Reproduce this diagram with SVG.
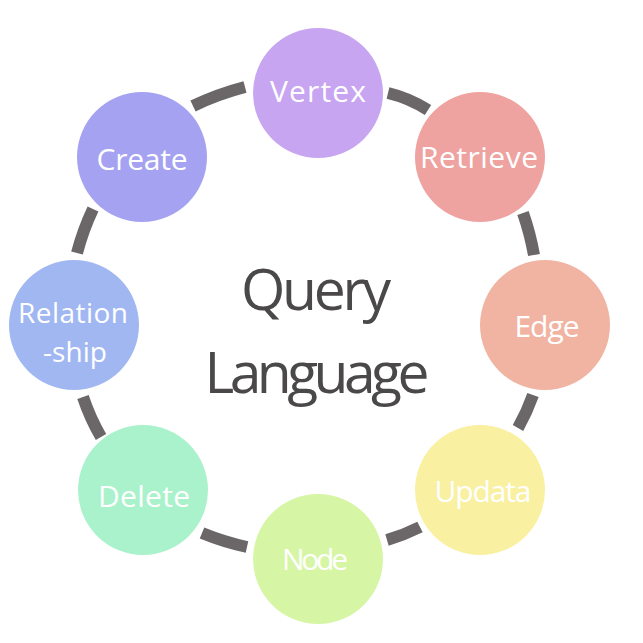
<svg xmlns="http://www.w3.org/2000/svg" width="643" height="643" viewBox="0 0 643 643">
<style>
.bg{fill:#ffffff}
.conn path{fill:none;stroke:#6b6768;stroke-width:12;stroke-linecap:butt}
.lbl{font-family:"Open Sans","DejaVu Sans",sans-serif;font-size:30px;fill:#ffffff;text-anchor:middle}
.sm{font-size:28px}
.title{font-family:"Open Sans","DejaVu Sans",sans-serif;font-size:57px;fill:#4a4849;text-anchor:middle}
</style>
<rect class="bg" x="0" y="0" width="643" height="643"/>
<g id="connectors" class="conn">
<path d="M388,93 Q409,98 428,110"/>
<path d="M523,213 Q530,233 534,255"/>
<path d="M533,395 Q527,412 518,428"/>
<path d="M420,527 Q404,535 387,540"/>
<path d="M247,547 Q224,542 202,533"/>
<path d="M101,437 Q90,418 83,397"/>
<path d="M77,253 Q83,230 93,209"/>
<path d="M193,106 Q218,94 245,87"/>
</g>
<g id="vertex">
<circle cx="318" cy="93" r="65" fill="#c7a5f1"/>
<text class="lbl" x="318" y="102" textLength="96">Vertex</text>
</g>
<g id="retrieve">
<circle cx="480" cy="157" r="65" fill="#eea3a1"/>
<text class="lbl" x="479" y="168" textLength="118">Retrieve</text>
</g>
<g id="edge">
<circle cx="545" cy="325" r="65" fill="#f1b4a3"/>
<text class="lbl" x="547" y="337" textLength="65">Edge</text>
</g>
<g id="updata">
<circle cx="480" cy="490" r="65" fill="#f9f0a2"/>
<text class="lbl" x="483" y="502" textLength="97">Updata</text>
</g>
<g id="node">
<circle cx="318" cy="559" r="65" fill="#d6f6a6"/>
<text class="lbl" x="315" y="570" textLength="66">Node</text>
</g>
<g id="delete">
<circle cx="143" cy="490" r="65" fill="#aaf2cb"/>
<text class="lbl" x="144" y="507" textLength="92">Delete</text>
</g>
<g id="relationship">
<circle cx="74" cy="325" r="65" fill="#a1b7f1"/>
<text class="lbl sm" x="73" y="323" textLength="110">Relation</text>
<text class="lbl sm" x="75" y="362" textLength="64">-ship</text>
</g>
<g id="create">
<circle cx="142" cy="157" r="65" fill="#a4a2f1"/>
<text class="lbl" x="142" y="170" textLength="91">Create</text>
</g>
<g id="center">
<text class="title" x="316" y="310" textLength="150">Query</text>
<text class="title" x="317" y="393" textLength="225">Language</text>
</g>
</svg>
